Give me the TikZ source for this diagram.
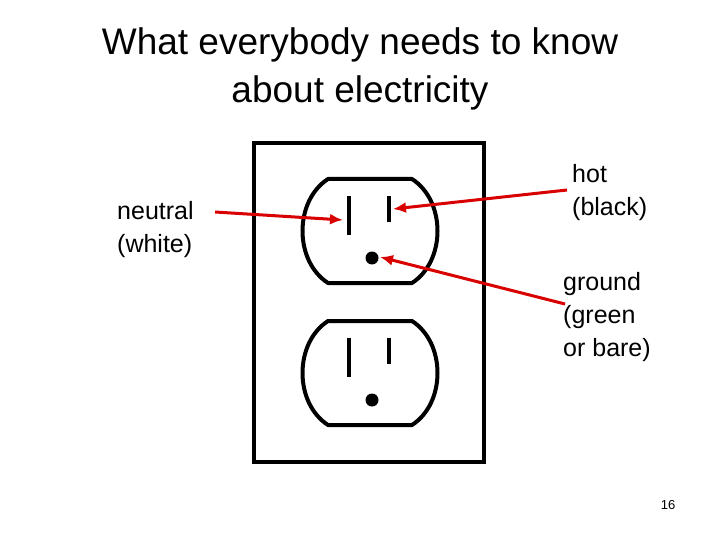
\documentclass[tikz,border=0pt]{standalone}
\usepackage{fontspec}
\setmainfont{Liberation Sans}
\usetikzlibrary{arrows.meta}
\begin{document}
\begin{tikzpicture}[x=1pt,y=-1pt,
  thick line/.style={line width=4pt},
  redarrow/.style={draw=red!85!black,line width=3pt,-{Latex[length=13pt,width=11pt]}},
  lbl/.style={font=\fontsize{25}{33}\selectfont,align=left,anchor=north west,inner sep=0pt}]
\useasboundingbox (0,0) rectangle (720,540);
\node[font=\fontsize{37}{48}\selectfont,align=center] (title) at (360,69) {What everybody needs to know\\about electricity};
\draw[thick line] (254,143) rectangle (484,462);
\foreach \c/\n in {231/up,373/low}{
  \draw[thick line,line join=round] (328,\c-52) -- (412,\c-52) .. controls (446,\c-30) and (446,\c+30) .. (412,\c+52) -- (328,\c+52) .. controls (294,\c+30) and (294,\c-30) .. (328,\c-52) -- cycle;
  \draw[thick line] (349,\c-35) -- (349,\c+4);
  \draw[thick line] (389,\c-35) -- (389,\c-9);
  \fill (372,\c+27) circle (6.5);
  \coordinate (neu\n) at (343,\c-11);
  \coordinate (hot\n) at (393,\c-22);
  \coordinate (gnd\n) at (380,\c+26);
}
\node[lbl] (neutral) at (117,201) {neutral\\(white)};
\node[lbl] (hot) at (572,164) {hot\\(black)};
\node[lbl] (ground) at (563,272) {ground\\(green\\or bare)};
\node[font=\fontsize{13}{15}\selectfont] (pg) at (668,505) {16};
\coordinate (a1) at (215,212);
\coordinate (a2) at (567,190);
\coordinate (a3) at (565,304);
\draw[redarrow] (a1) -- (neuup);
\draw[redarrow] (a2) -- (hotup);
\draw[redarrow] (a3) -- (gndup);
\end{tikzpicture}
\end{document}
